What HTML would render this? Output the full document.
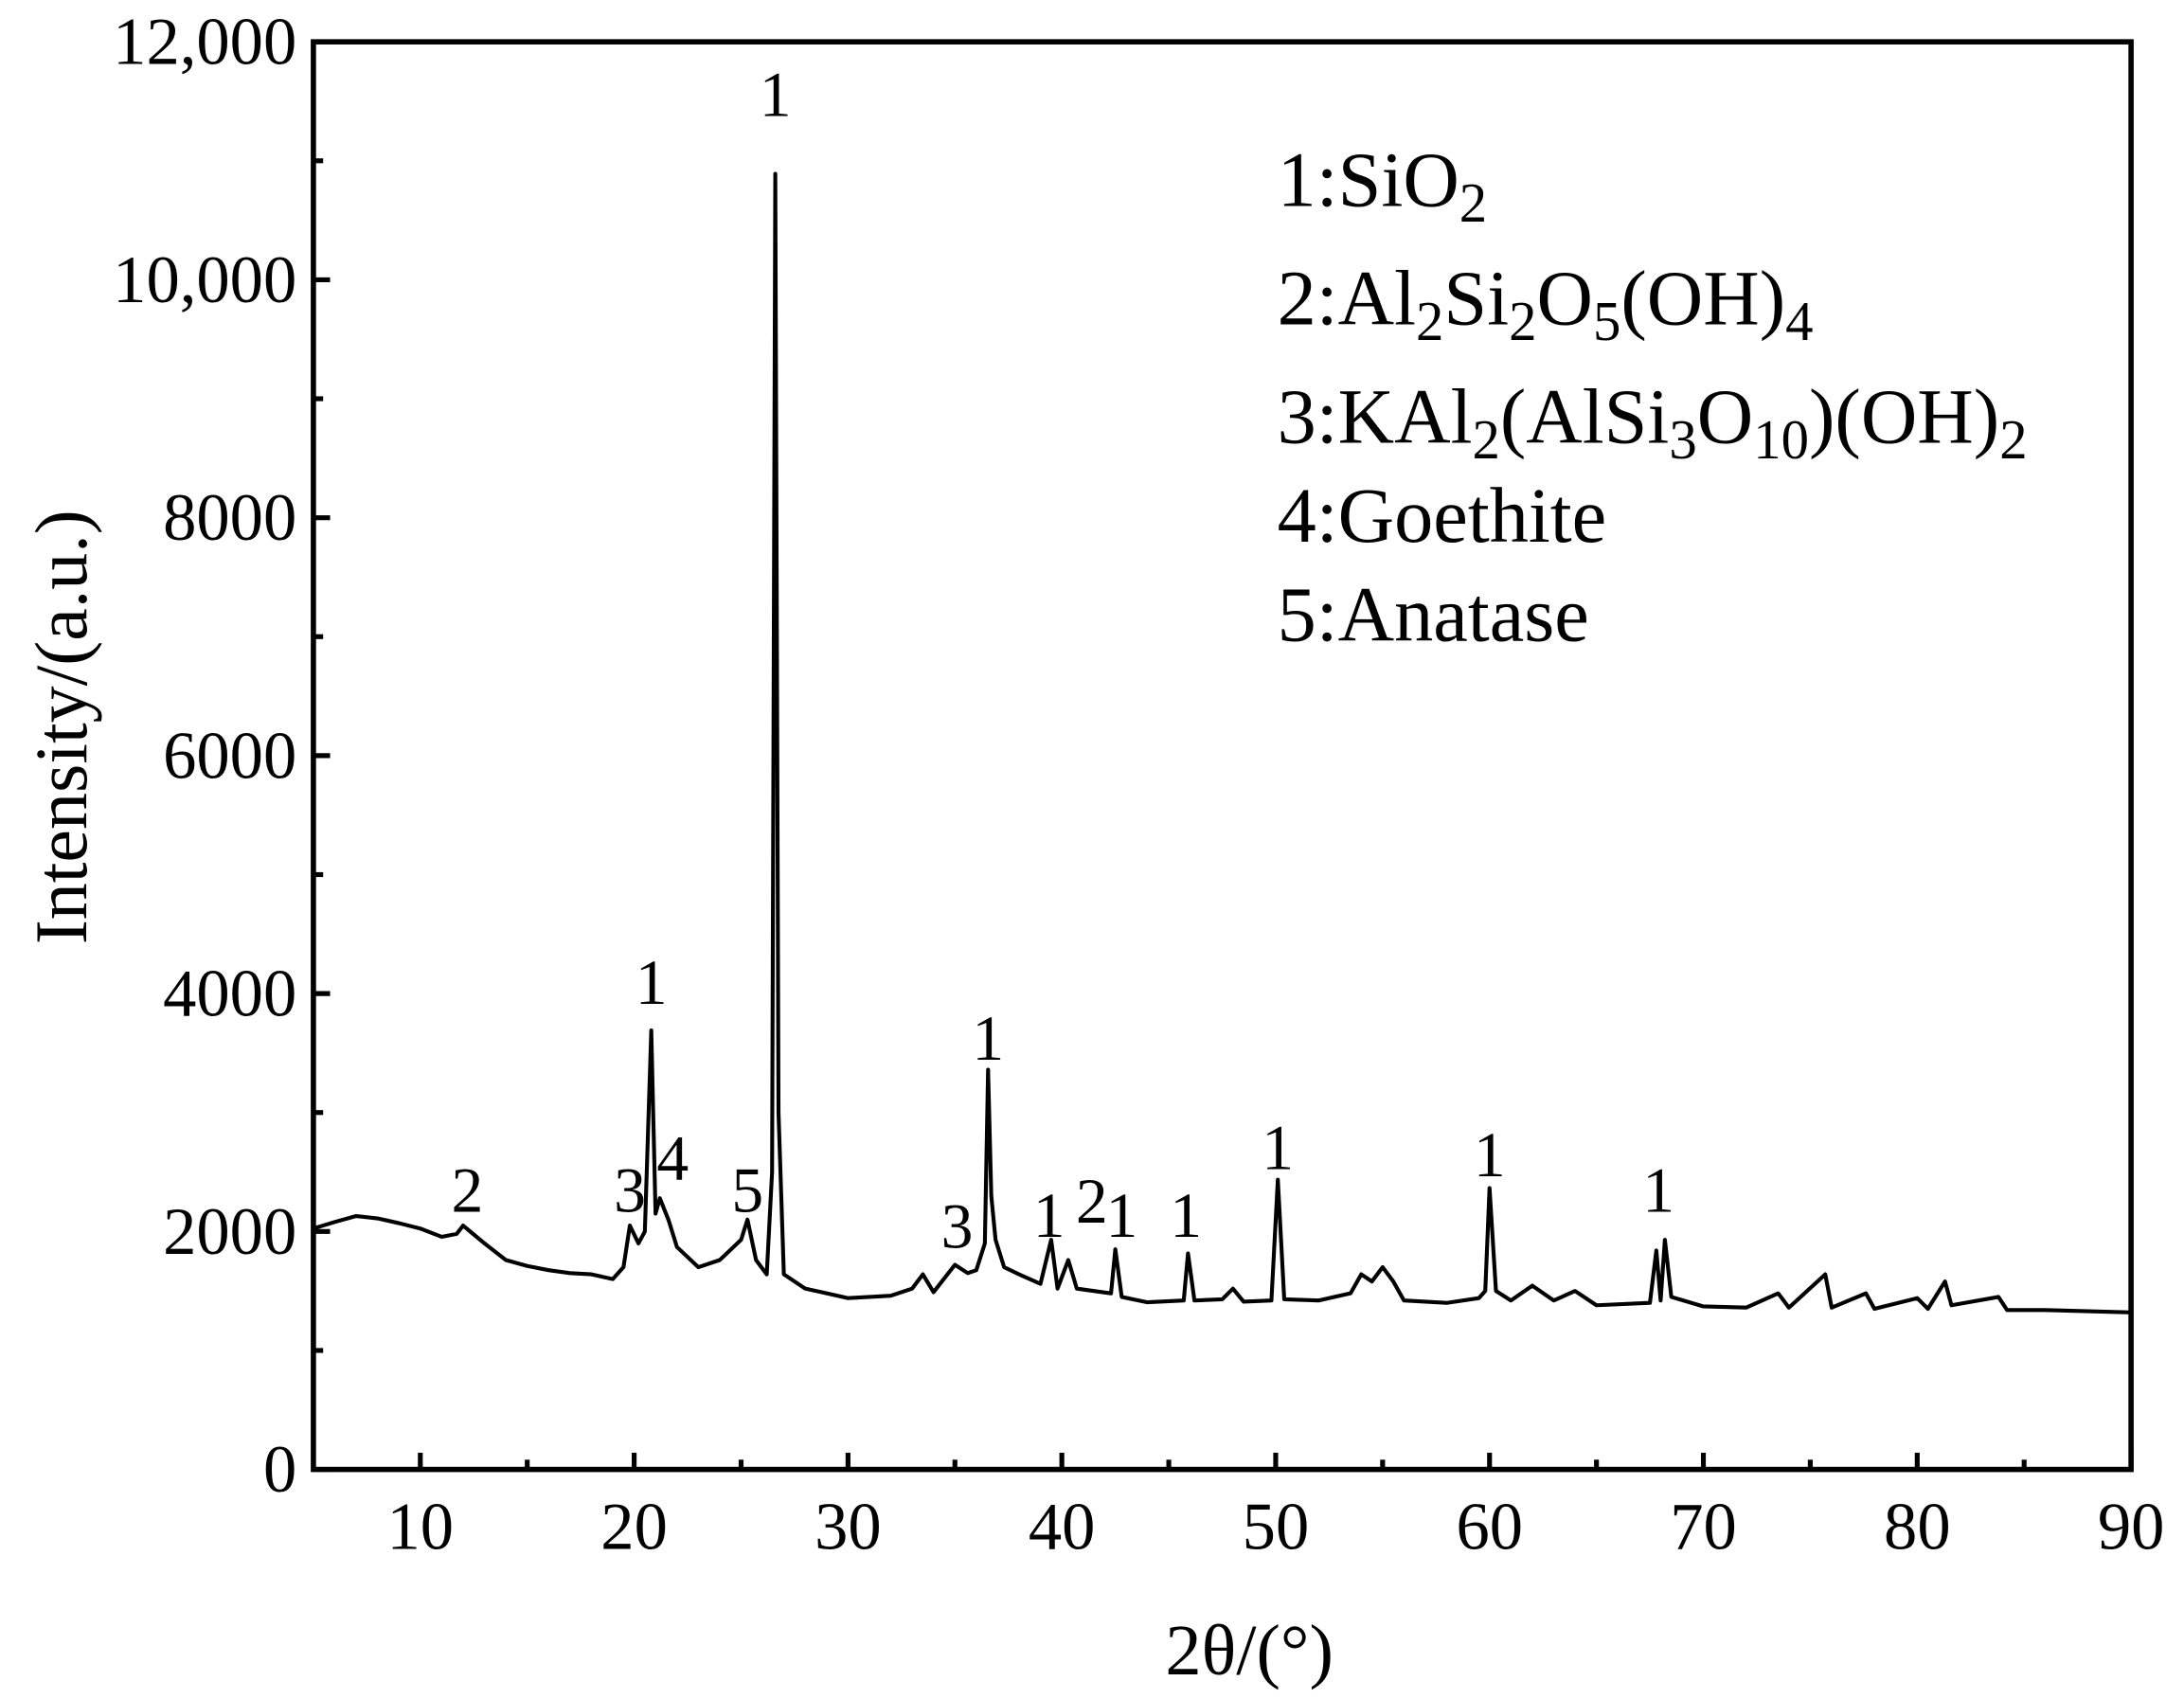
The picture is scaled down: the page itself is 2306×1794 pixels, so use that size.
<!DOCTYPE html>
<html><head><meta charset="utf-8"><style>
html,body{margin:0;padding:0;background:#fff}
svg{display:block}
text{font-family:"Liberation Serif",serif;fill:#000}
</style></head><body>
<svg width="2306" height="1794" viewBox="0 0 1568 1219.8" xmlns="http://www.w3.org/2000/svg">
<g id="plot"></g>
<g id="legend" font-size="56">
<text x="917" y="148">1:SiO<tspan font-size="40" dy="11">2</tspan></text>
<text x="917" y="233">2:Al<tspan font-size="40" dy="11">2</tspan><tspan dy="-11">Si</tspan><tspan font-size="40" dy="11">2</tspan><tspan dy="-11">O</tspan><tspan font-size="40" dy="11">5</tspan><tspan dy="-11">(OH)</tspan><tspan font-size="40" dy="11">4</tspan></text>
<text x="917" y="318">3:KAl<tspan font-size="40" dy="11">2</tspan><tspan dy="-11">(AlSi</tspan><tspan font-size="40" dy="11">3</tspan><tspan dy="-11">O</tspan><tspan font-size="40" dy="11">10</tspan><tspan dy="-11">)(OH)</tspan><tspan font-size="40" dy="11">2</tspan></text>
<text x="917" y="389">4:Goethite</text>
<text x="917" y="460">5:Anatase</text>
</g>
<text font-size="53" text-anchor="middle" transform="translate(62,522) rotate(-90)">Intensity/(a.u.)</text>
<text font-size="52" text-anchor="middle" x="897" y="1202">2θ/(°)</text>
<script>
const xVals=[5,6,7,8,9,10,11,11.7,12,12.4,13,14,15,16,17,18,19,19.5,19.8,20.2,20.5,20.8,21,21.2,21.6,22,23,24,25,25.3,25.7,26.2,26.45,26.6,26.75,27,28,29,30,31,32,33,33.5,34,35,35.6,36,36.4,36.55,36.7,36.9,37.3,38,39,39.5,39.8,40.3,40.7,41.5,42.3,42.5,42.8,44,45.7,45.9,46.2,47.5,48,48.5,49.8,50.1,50.4,52,53.5,54,54.5,55,55.5,56,58,59.5,59.8,60,60.3,61,62,63,64,65,67.5,67.8,68,68.2,68.5,70,72,73.5,74,75.7,76,77.6,78,80,80.5,81.3,81.6,83.8,84.2,86,88,90];
const yVals=[2025,2080,2130,2110,2070,2025,1955,1980,2050,1990,1900,1760,1710,1675,1650,1640,1600,1700,2050,1900,2000,3690,2150,2280,2100,1870,1700,1760,1930,2100,1760,1640,2500,10890,3000,1640,1520,1480,1440,1450,1460,1520,1640,1490,1720,1650,1675,1900,3360,2300,1930,1700,1640,1560,1930,1520,1760,1520,1500,1480,1850,1450,1405,1420,1815,1420,1430,1520,1410,1420,2435,1430,1420,1480,1640,1580,1700,1580,1420,1400,1440,1500,2365,1500,1420,1545,1420,1500,1380,1400,1840,1420,1930,1450,1370,1360,1480,1360,1640,1360,1480,1350,1440,1350,1580,1380,1450,1340,1340,1330,1320];
const xTicks=[10,20,30,40,50,60,70,80,90];
const xMinor=[15,25,35,45,55,65,75,85];
const yTicks=[0,2000,4000,6000,8000,10000,12000];
const yTickLabels=["0","2000","4000","6000","8000","10,000","12,000"];
const yMinor=[1000,3000,5000,7000,9000,11000];
const peakLabels=["2","3","4","1","5","1","3","1","1","2","1","1","1","1","1"];
const peakX=[12.2,19.8,21.8,20.8,25.3,26.6,35.1,36.55,39.4,41.4,42.8,45.8,50.1,60.0,67.9];
const peakY=[2340,2340,2610,4090,2340,11550,2040,3620,2130,2250,2130,2130,2700,2640,2340];
const L=225,R=1530,T=30,B=1055,X0=5,X1=90,Y0=0,Y1=12000;
const sx=v=>L+(v-X0)/(X1-X0)*(R-L);
const sy=v=>B-(v-Y0)/(Y1-Y0)*(B-T);
const NS="http://www.w3.org/2000/svg";
const g=document.getElementById('plot');
function mk(t,a){const e=document.createElementNS(NS,t);for(const k in a)e.setAttribute(k,a[k]);g.appendChild(e);return e;}
let d="";xVals.forEach((x,i)=>{d+=(i?"L":"M")+sx(x).toFixed(2)+","+sy(yVals[i]).toFixed(2);});
const line=mk('path',{d:d,fill:'none',stroke:'#000','stroke-width':2.8,'stroke-linejoin':'round'});


xTicks.forEach(v=>{const t=mk('line',{x1:sx(v),x2:sx(v),y1:B,y2:B-12,stroke:'#000','stroke-width':3.5});


const l=mk('text',{x:sx(v),y:B+57,'font-size':48,'text-anchor':'middle'});l.textContent=v;

});
xMinor.forEach(v=>{const t=mk('line',{x1:sx(v),x2:sx(v),y1:B,y2:B-7,stroke:'#000','stroke-width':3.5});

});
yTicks.forEach((v,i)=>{const t=mk('line',{x1:L,x2:L+12,y1:sy(v),y2:sy(v),stroke:'#000','stroke-width':3.5});


const l=mk('text',{x:L-12,y:sy(v)+16,'font-size':48,'text-anchor':'end'});l.textContent=yTickLabels[i];

});
yMinor.forEach(v=>{const t=mk('line',{x1:L,x2:L+7,y1:sy(v),y2:sy(v),stroke:'#000','stroke-width':3.5});

});
peakLabels.forEach((s,i)=>{const l=mk('text',{x:sx(peakX[i]),y:sy(peakY[i])+15,'font-size':46,'text-anchor':'middle'});l.textContent=s;

});
const fr=mk('rect',{x:L,y:T,width:R-L,height:B-T,fill:'none',stroke:'#000','stroke-width':3.8});


</script>
</svg>
</body></html>
